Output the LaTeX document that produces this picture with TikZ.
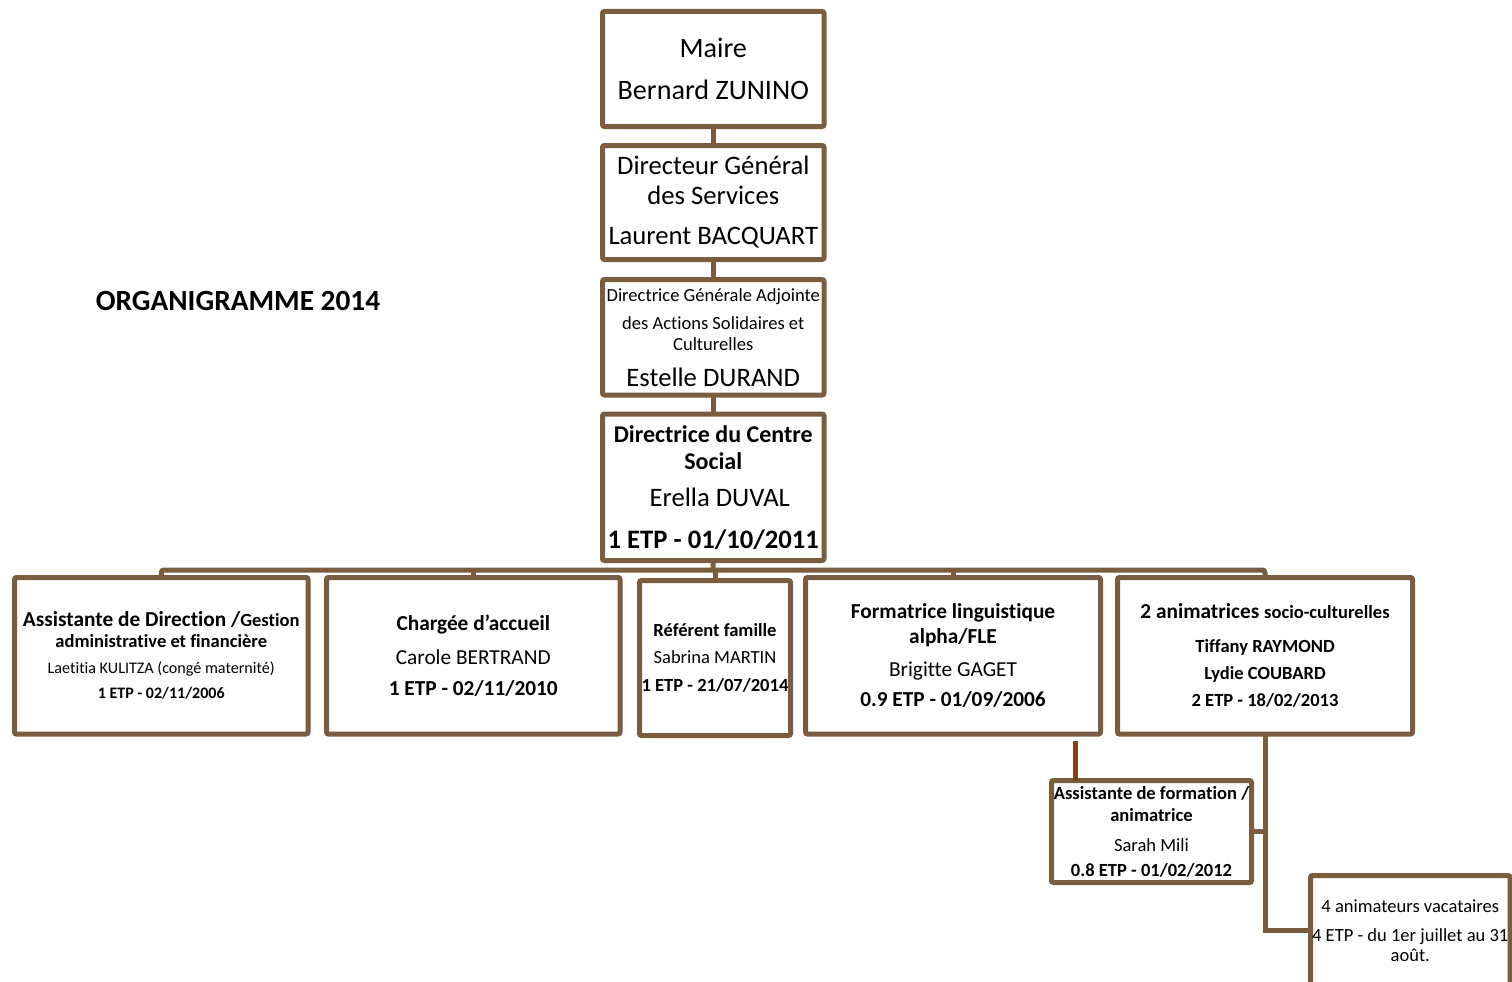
\documentclass[tikz,border=0pt]{standalone}
\usepackage{fontspec}
\setmainfont{Carlito}[Ligatures=NoCommon]
\definecolor{brn}{HTML}{7A5D3E}
\definecolor{dbrn}{HTML}{7B4516}
\newcommand\txl[3]{\fontsize{#1}{#2}\selectfont\hbox to\hsize{\hss#3\hss}}
\newlength\obw
\newcommand\obox[6]{%
  \pgfmathsetlength\obw{(#4-#2)*0.75pt}%
  \node[orgbox, minimum width={(#4-#2)*0.75pt}, minimum height={(#5-#3)*0.75pt}] (#1) at ({(#2+#4)/2},{(#3+#5)/2}) {\vbox{\hsize=\obw\relax #6}};}
\begin{document}
\begin{tikzpicture}[x=0.75pt, y=-0.75pt,
  orgbox/.style={draw=brn, line width=3.75pt, fill=white, rounded corners=1.5pt, inner sep=0pt, outer sep=0pt},
  conn/.style={draw=brn, line width=3.75pt},
  dconn/.style={draw=dbrn, line width=3.75pt}]
\useasboundingbox (0,0) rectangle (1512,981);
\fill[white] (0,0) rectangle (1512,981);
\clip (0,0) rectangle (1512,981);

\node[anchor=base, inner sep=0pt] (title) at (238,310) {\fontsize{22}{26}\selectfont\bfseries ORGANIGRAMME 2014};

\obox{maire}{602.5}{11.5}{824}{126.5}{\txl{21.1}{24}{Maire}\txl{21.1}{31.5}{Bernard ZUNINO}}
\obox{dgs}{602.5}{145.5}{824}{259.5}{\txl{20}{24}{Directeur Général}\txl{20}{22.5}{des Services}\txl{20}{30}{Laurent BACQUART}}
\obox{dga}{602.5}{279.5}{824}{395}{\txl{13.9}{16}{Directrice Générale Adjointe}\txl{13.9}{21}{des Actions Solidaires et}\txl{13.9}{15.75}{Culturelles}\txl{20}{27}{Estelle DURAND}}
\obox{dir}{602.5}{414}{824}{560.5}{\txl{18}{20}{\bfseries Directrice du Centre}\txl{18}{20.25}{\bfseries Social}\txl{20}{27.75}{\kern9.75pt Erella DUVAL}\txl{20}{31.5}{\bfseries 1 ETP - 01/10/2011}}

\obox{b1}{14.5}{577.5}{308}{734}{\txl{16}{18}{\bfseries Assistante de Direction /{\fontsize{13.9}{15.75}\selectfont Gestion}}\txl{13.9}{15.75}{\bfseries administrative et financière}\txl{12.1}{19.5}{Laetitia KULITZA (congé maternité)}\txl{12}{18.75}{\bfseries 1 ETP - 02/11/2006}}
\obox{b2}{326.5}{577.5}{620}{734}{\txl{16}{18}{\bfseries Chargée d’accueil}\txl{16}{25.5}{Carole BERTRAND}\txl{16}{23.25}{\bfseries 1 ETP - 02/11/2010}}
\obox{b3}{639.5}{580.5}{790.5}{735.5}{\txl{13.9}{16}{\bfseries Référent famille}\txl{13.9}{20.25}{Sabrina MARTIN}\txl{13.9}{21}{\bfseries 1 ETP - 21/07/2014}}
\obox{b4}{805.5}{577.5}{1100.5}{734}{\txl{16}{18}{\bfseries Formatrice linguistique}\txl{16}{18.75}{\bfseries alpha/FLE}\txl{16}{24.75}{Brigitte GAGET}\txl{16}{22.5}{\bfseries 0.9 ETP - 01/09/2006}}
\obox{b5}{1117.5}{577.5}{1412.5}{734}{\txl{16}{18}{\bfseries 2 animatrices {\fontsize{13.9}{16}\selectfont socio-culturelles}}\txl{13.9}{25.5}{\bfseries Tiffany RAYMOND}\txl{13.9}{20.25}{\bfseries Lydie COUBARD}\txl{13.9}{20.25}{\bfseries 2 ETP - 18/02/2013}}

\obox{asst}{1051.5}{780.5}{1251.5}{882.5}{\txl{13.9}{16}{\bfseries Assistante de formation /}\txl{13.9}{16.5}{\bfseries animatrice}\txl{13.9}{22.5}{Sarah Mili}\txl{13.9}{18.75}{\bfseries 0.8 ETP - 01/02/2012}}
\obox{anim}{1310.5}{875.5}{1510}{985}{\txl{13.9}{16}{4 animateurs vacataires}\txl{13.9}{21.75}{4 ETP - du 1er juillet au 31}\txl{13.9}{15}{août.}}

\coordinate (bus) at (713,570);
\draw[conn] (maire.south) -- (dgs.north);
\draw[conn] (dgs.south) -- (dga.north);
\draw[conn] (dga.south) -- (dir.north);
\draw[conn] (dir.south) -- (bus);
\draw[conn, rounded corners=2pt] (b1.north) |- (bus) -| (b5.north);
\draw[conn] (b2.north) -- (b2.north |- bus);
\draw[conn] (b3.north) -- (b3.north |- bus);
\draw[conn] (b4.north) -- (b4.north |- bus);
\coordinate (fl) at (1075,741);
\draw[dconn] (fl) -- (fl |- asst.north);
\draw[conn] (b5.south) |- (anim.west);
\draw[conn] (asst.east) -- (asst.east -| b5.south);
\end{tikzpicture}
\end{document}
